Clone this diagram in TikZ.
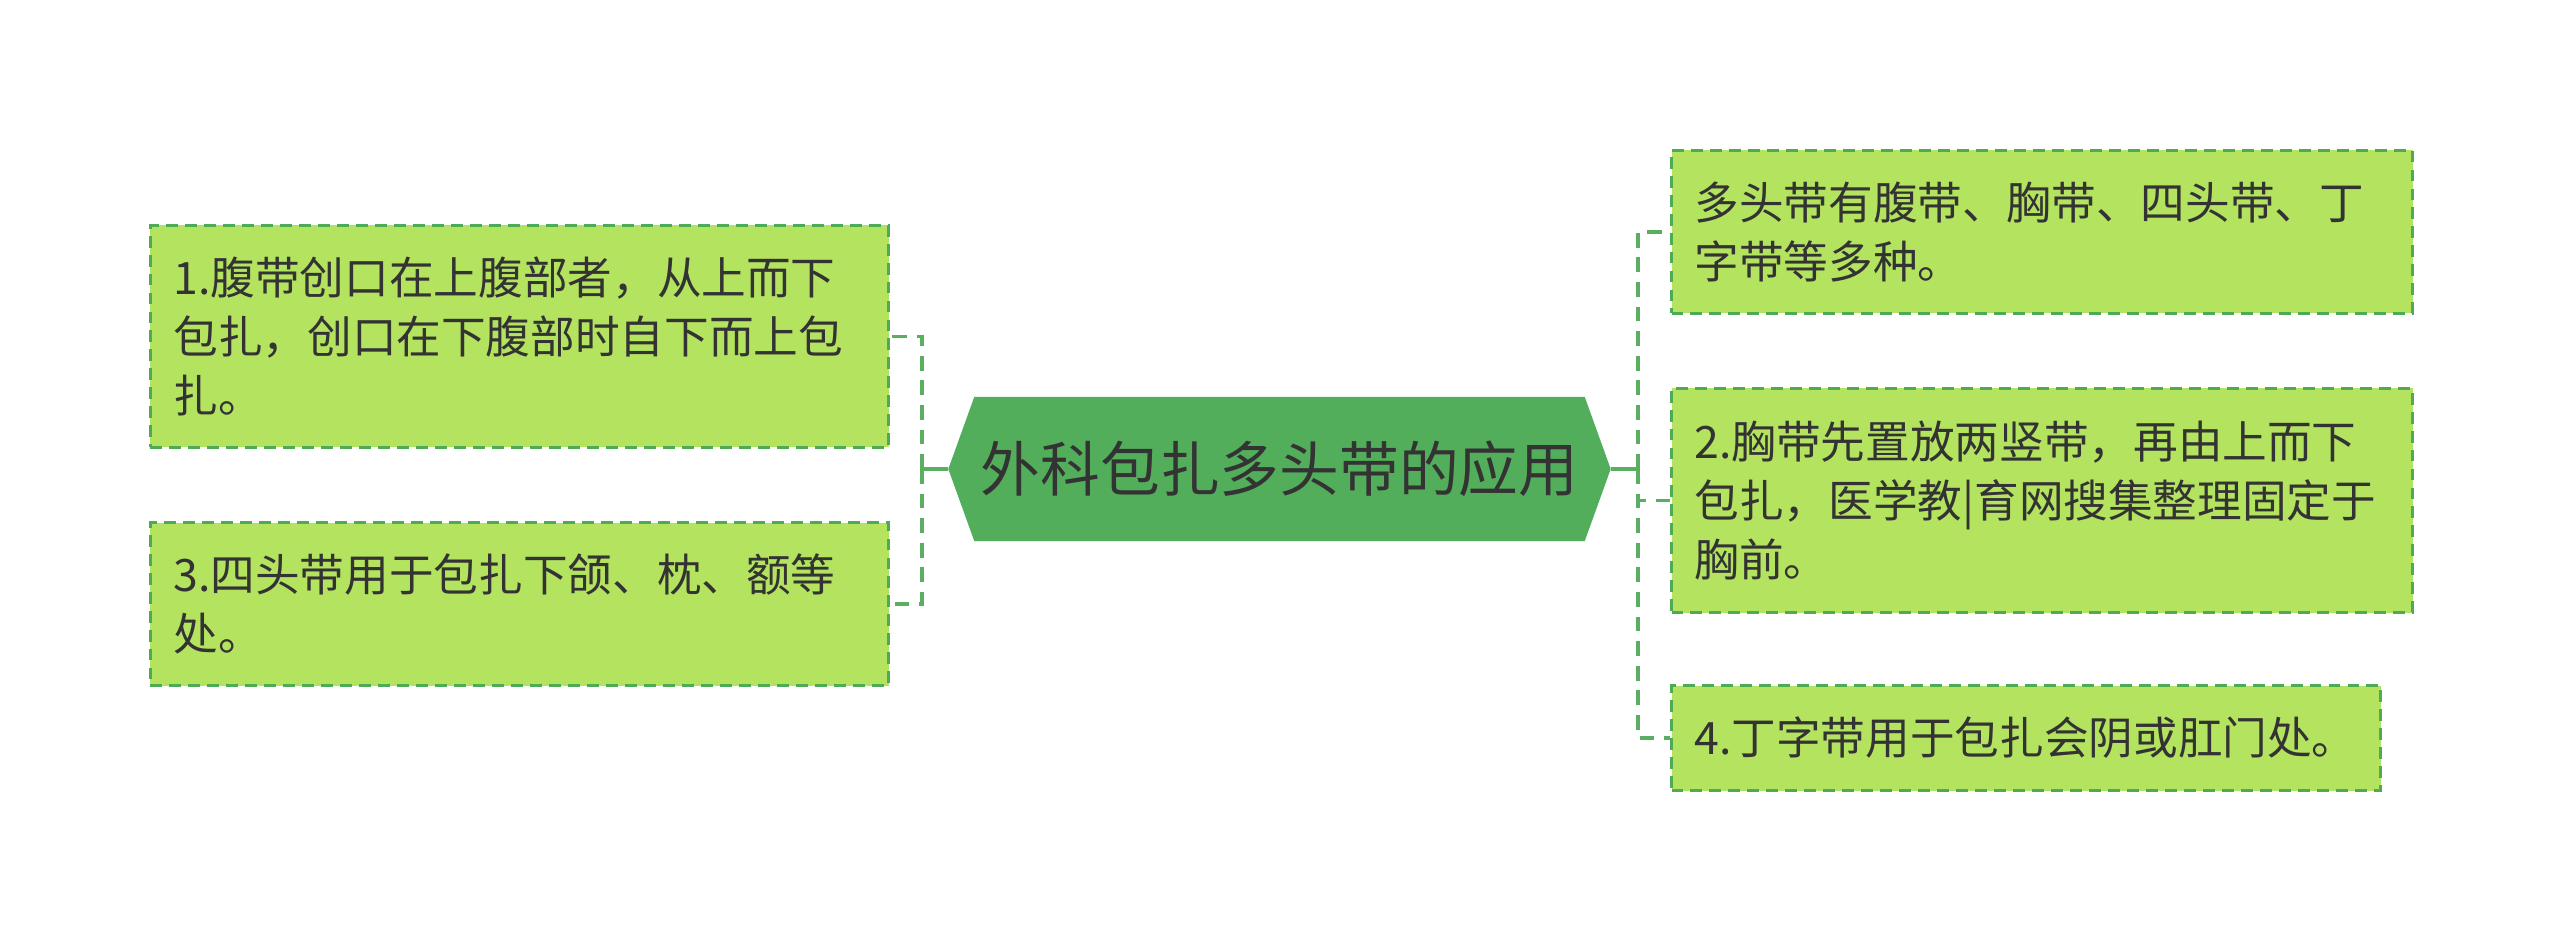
\documentclass[tikz,border=0pt]{standalone}
\usepackage{fontspec}
\setmainfont{Noto Sans CJK SC}
\usetikzlibrary{backgrounds}
\definecolor{rootfill}{HTML}{53AE5C}
\definecolor{leaffill}{HTML}{B3E35F}
\definecolor{leafline}{HTML}{4FAA56}
\definecolor{linkgreen}{HTML}{5AAE61}
\definecolor{textgray}{HTML}{333333}

\begin{document}
\begin{tikzpicture}[
    rootnode/.style={minimum width=6.61cm, minimum height=1.43cm, inner sep=0pt,
        text=textgray, font=\fontsize{17pt}{20pt}\selectfont},
    leaf/.style 2 args={draw=leafline, fill=leaffill, line width=0.85pt,
        dash pattern=on 3.4pt off 2pt, anchor=north west, align=left,
        inner xsep=0.23cm, inner ysep=0pt, text width=#1, minimum height=#2,
        text=textgray, font=\fontsize{12.7pt}{16.8pt}\selectfont},
    trunk/.style={draw=linkgreen, line width=1.1pt},
    branch/.style={draw=linkgreen, line width=1.1pt, dash pattern=on 4.2pt off 2.8pt}]
        \useasboundingbox (0,0) rectangle (25.6,-9.38);

        % centre
        \node[rootnode] (root) at (12.795,-4.69) {外科包扎多头带的应用};
        \begin{scope}[on background layer]
            \fill[rootfill] (root.west) -- ([xshift=0.26cm]root.north west)
                -- ([xshift=-0.26cm]root.north east) -- (root.east)
                -- ([xshift=-0.26cm]root.south east)
                -- ([xshift=0.26cm]root.south west) -- cycle;
        \end{scope}

        % left side
        \node[leaf={6.92cm}{2.22cm}] (abdomen) at (1.49,-2.24)
            {1.腹带创口在上腹部者，从上而下\\包扎，创口在下腹部时自下而上包\\扎。};
        \node[leaf={6.92cm}{1.63cm}] (fourtail) at (1.49,-5.21)
            {3.四头带用于包扎下颌、枕、额等\\处。};

        % right side
        \node[leaf={6.95cm}{1.63cm}] (kinds) at (16.70,-1.49)
            {多头带有腹带、胸带、四头带、丁\\字带等多种。};
        \node[leaf={6.95cm}{2.24cm}] (chest) at (16.70,-3.87)
            {2.胸带先置放两竖带，再由上而下\\包扎，医学教|育网搜集整理固定于\\胸前。};
        \node[leaf={6.63cm}{1.05cm}] (tshape) at (16.70,-6.84)
            {4.丁字带用于包扎会阴或肛门处。};

        % connectors
        \coordinate (lbus) at (9.22,-4.69);
        \coordinate (rbus) at (16.38,-4.69);
        \draw[trunk] (root.west) -- (lbus);
        \draw[trunk] (root.east) -- (rbus);
        \draw[branch] (lbus) |- (abdomen.east);
        \draw[branch] (lbus) |- (fourtail.east);
        \draw[branch] (rbus) |- (kinds.west);
        \draw[branch] (rbus) |- (chest.west);
        \draw[branch] (rbus) |- (tshape.west);
        \end{tikzpicture}
\end{document}
